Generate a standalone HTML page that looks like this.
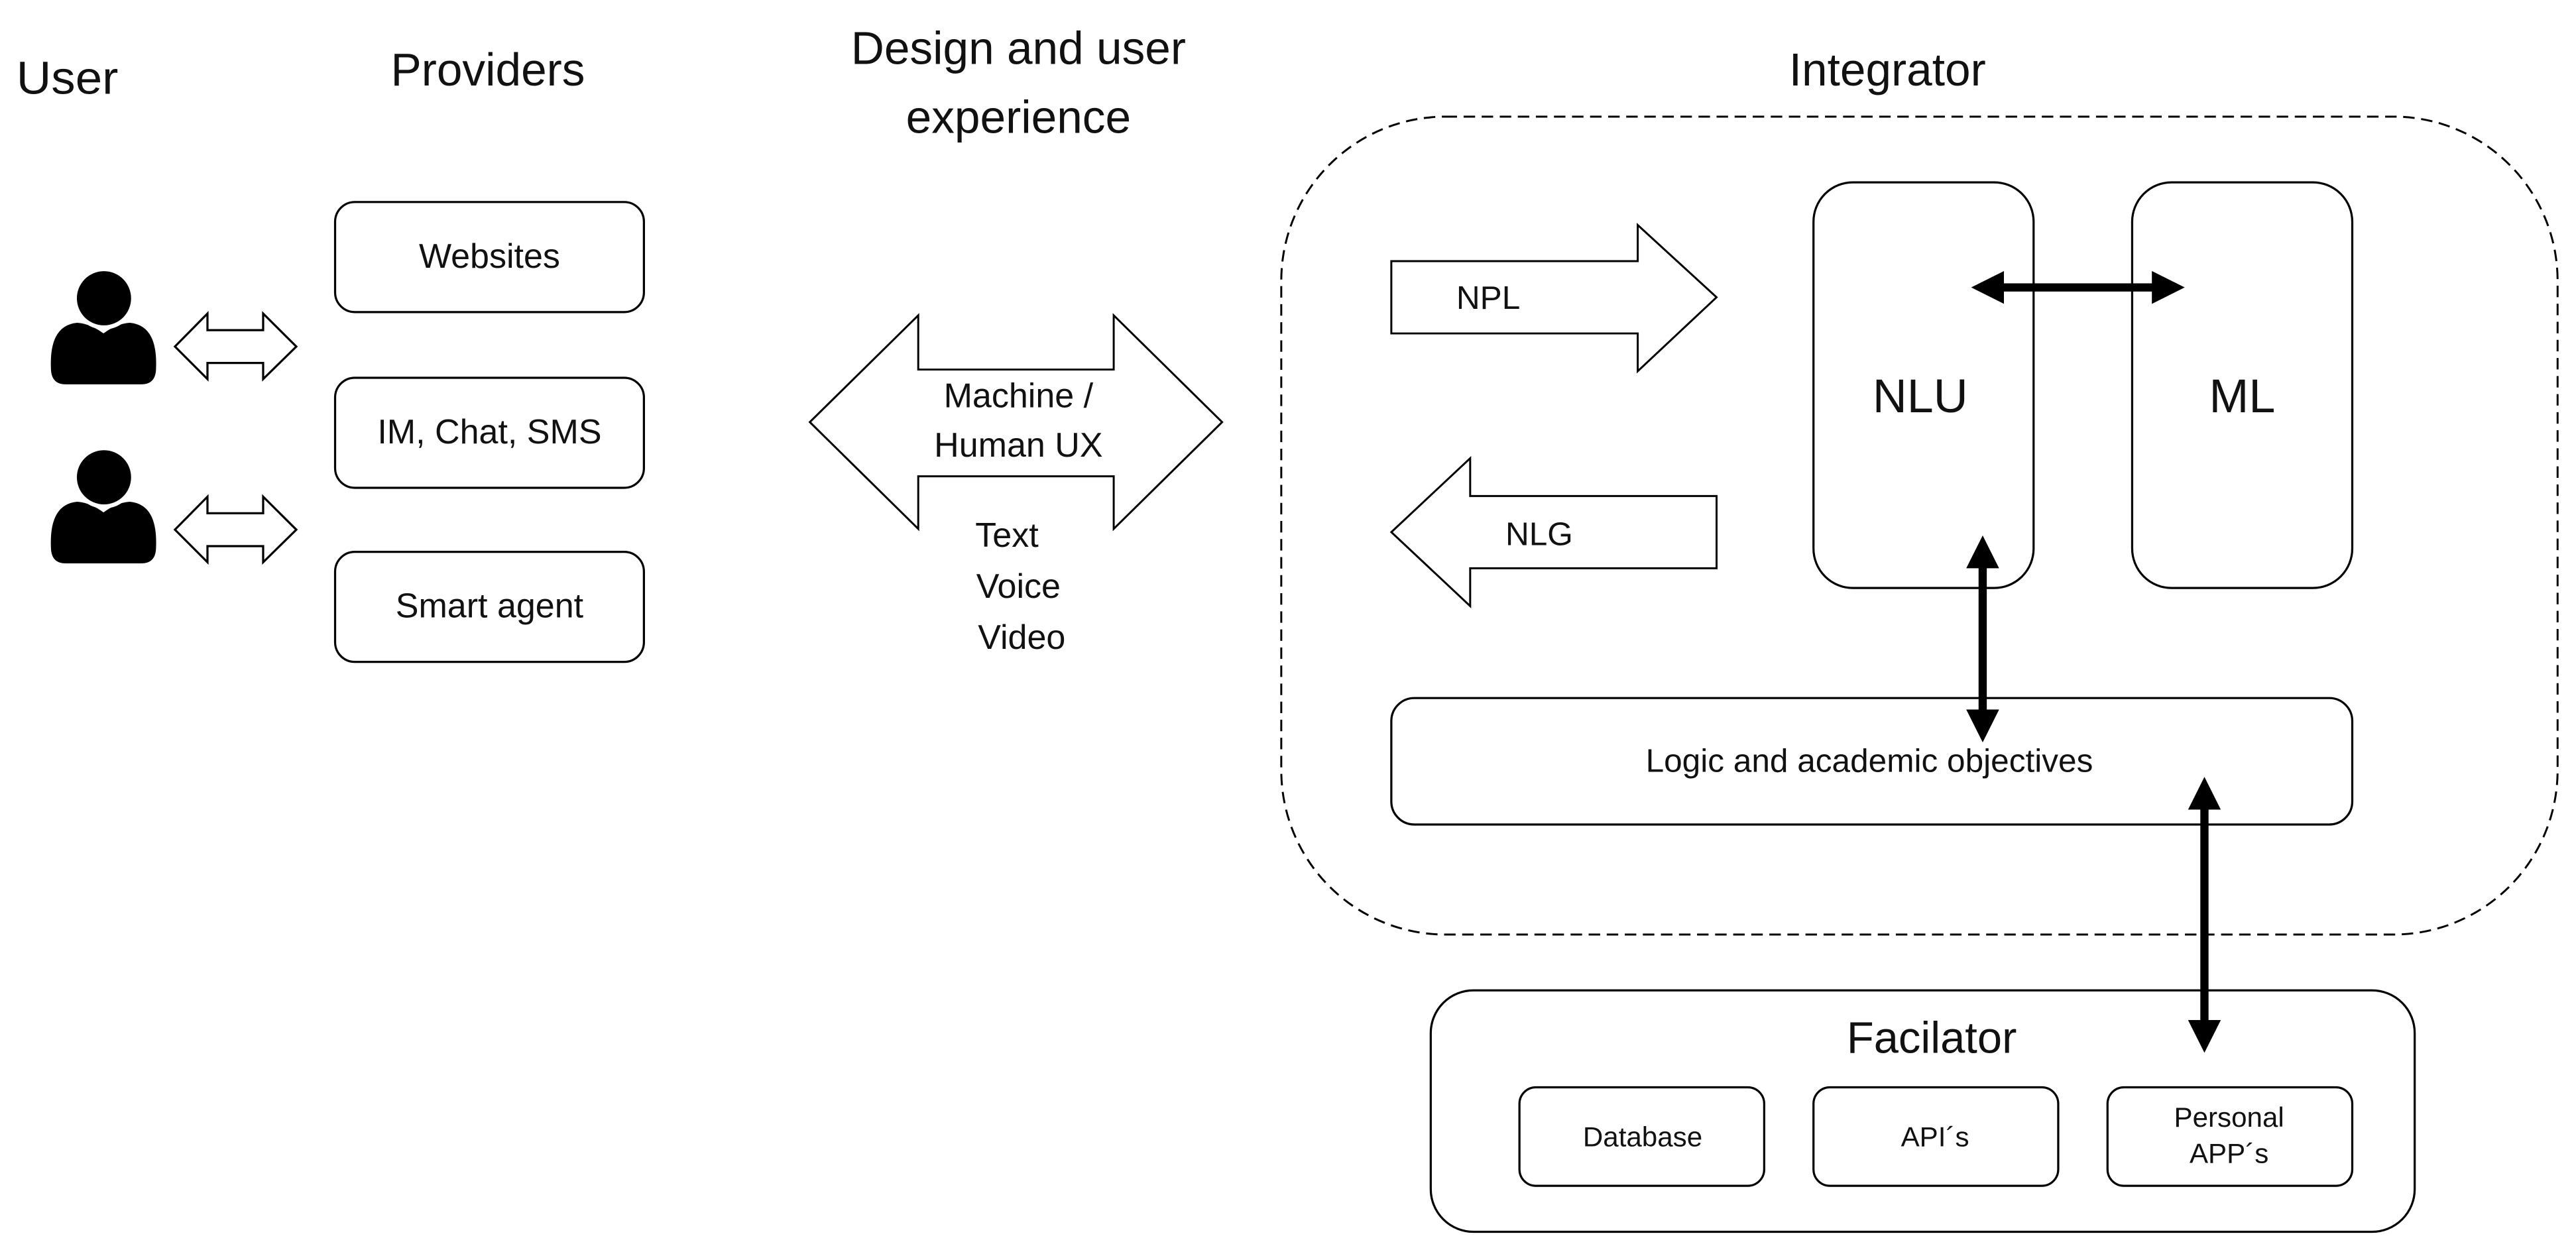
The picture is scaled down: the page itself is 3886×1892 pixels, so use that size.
<!DOCTYPE html>
<html><head><meta charset="utf-8"><style>
html,body{margin:0;padding:0;background:#fff;}
svg{display:block;}
text{font-family:"Liberation Sans",sans-serif;fill:#111;}
</style></head><body>
<svg width="3886" height="1892" viewBox="0 0 1568.2 763.5" xmlns="http://www.w3.org/2000/svg">
<defs>
<g id="person">
<path d="M31,224 Q30,198 47,196.5 Q55,197 63,203 Q71,197 79,196.5 Q96,198 95,224 Q95,234 86,234 L40,234 Q31,234 31,224 Z" fill="#000"/>
<circle cx="63.3" cy="181.6" r="19" fill="#fff"/>
<circle cx="63.3" cy="181.6" r="16.5" fill="#000"/>
</g>
<g id="sarrow">
<polygon points="106.5,211 126.3,190.9 126.3,201 160.2,201 160.2,190.9 180.4,211 160.2,230.8 160.2,221 126.3,221 126.3,230.8" fill="#fff" stroke="#000" stroke-width="1.3"/>
</g>
<marker id="ah" markerWidth="4" markerHeight="4" refX="2" refY="2" orient="auto-start-reverse" markerUnits="strokeWidth"><path d="M0,0 L4,2 L0,4 Z" fill="#000"/></marker>
</defs>

<text x="10" y="57" font-size="28" textLength="62" lengthAdjust="spacingAndGlyphs">User</text>
<text x="297" y="52" font-size="28" text-anchor="middle">Providers</text>
<text x="620" y="39" font-size="28" text-anchor="middle">Design and user</text>
<text x="620" y="81" font-size="28" text-anchor="middle">experience</text>
<text x="1149" y="52" font-size="28" text-anchor="middle">Integrator</text>

<use href="#person"/>
<use href="#person" transform="translate(0,109)"/>
<use href="#sarrow"/>
<use href="#sarrow" transform="translate(0,111.5)"/>

<g fill="#fff" stroke="#000" stroke-width="1.3">
<rect x="204" y="123" width="188" height="67" rx="12"/>
<rect x="204" y="230" width="188" height="67" rx="12"/>
<rect x="204" y="336" width="188" height="67" rx="12"/>
</g>
<text x="298" y="163" font-size="21" text-anchor="middle">Websites</text>
<text x="298" y="270" font-size="21" text-anchor="middle">IM, Chat, SMS</text>
<text x="298" y="376" font-size="21" text-anchor="middle">Smart agent</text>

<polygon points="493,257 559,192 559,225 678,225 678,192 744,257 678,322 678,290 559,290 559,322" fill="#fff" stroke="#000" stroke-width="1.2"/>
<g font-size="21" text-anchor="middle">
<text x="620" y="248">Machine /</text>
<text x="620" y="278">Human UX</text>
<text x="613" y="333">Text</text>
<text x="620" y="364">Voice</text>
<text x="622" y="395">Video</text>
</g>

<rect x="780" y="71" width="777" height="498" rx="100" fill="none" stroke="#000" stroke-width="1.2" stroke-dasharray="7,4"/>

<polygon points="847,159 997,159 997,137 1045,181 997,226 997,203 847,203" fill="#fff" stroke="#000" stroke-width="1.2"/>
<text x="906" y="188" font-size="20" text-anchor="middle">NPL</text>
<polygon points="847,324 895,279 895,302 1045,302 1045,346 895,346 895,369" fill="#fff" stroke="#000" stroke-width="1.2"/>
<text x="937" y="332" font-size="20" text-anchor="middle">NLG</text>

<g fill="#fff" stroke="#000" stroke-width="1.3">
<rect x="1104" y="111" width="134" height="247" rx="24"/>
<rect x="1298" y="111" width="134" height="247" rx="24"/>
<rect x="847" y="425" width="585" height="77" rx="14"/>
<rect x="871" y="603" width="599" height="147" rx="26"/>
<rect x="925" y="662" width="149" height="60" rx="10"/>
<rect x="1104" y="662" width="149" height="60" rx="10"/>
<rect x="1283" y="662" width="149" height="60" rx="10"/>
</g>
<text x="1169" y="251" font-size="29" text-anchor="middle">NLU</text>
<text x="1365" y="251" font-size="29" text-anchor="middle">ML</text>
<text x="1138" y="470" font-size="20" text-anchor="middle">Logic and academic objectives</text>
<text x="1176" y="641" font-size="27" text-anchor="middle">Facilator</text>
<text x="1000" y="698" font-size="17" text-anchor="middle">Database</text>
<text x="1178" y="698" font-size="17" text-anchor="middle">API´s</text>
<text x="1357" y="686" font-size="17" text-anchor="middle">Personal</text>
<text x="1357" y="708" font-size="17" text-anchor="middle">APP´s</text>

<g stroke="#000" stroke-width="5" marker-start="url(#ah)" marker-end="url(#ah)">
<line x1="1210" y1="175" x2="1320" y2="175"/>
<line x1="1207" y1="336" x2="1207" y2="442"/>
<line x1="1342" y1="483" x2="1342" y2="631"/>
</g>
</svg>
</body></html>
